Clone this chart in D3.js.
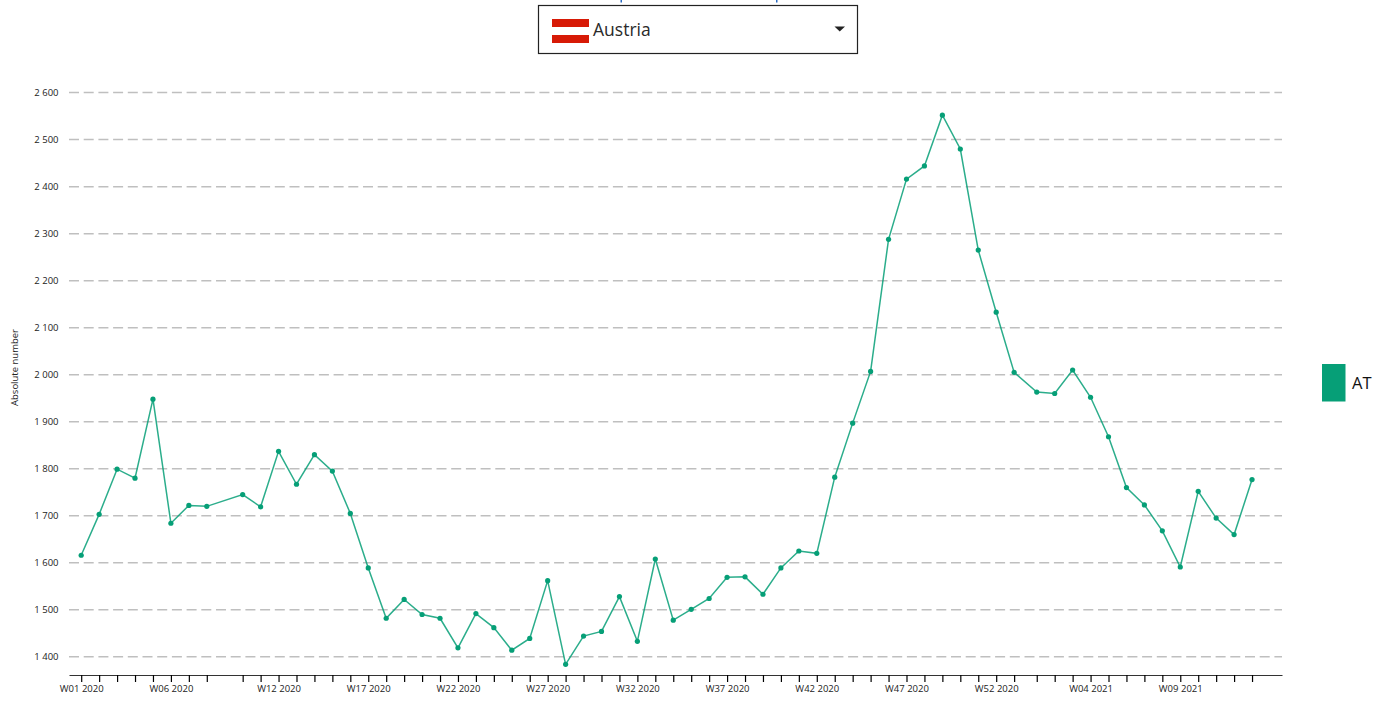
<!DOCTYPE html>
<html>
<head>
<meta charset="utf-8">
<script src="https://cdn.jsdelivr.net/npm/d3@7"></script>
<style>
html,body{margin:0;padding:0;background:#fff;overflow:hidden}
svg{display:block}
text{font-family:"Open Sans","Noto Sans",sans-serif}
</style>
</head>
<body>
<svg id="chart" width="1389" height="701"></svg>
<script>
const weeks2020 = ["W01","W02","W03","W04","W05","W06","W07","W08","W10","W11","W12","W13","W14","W15","W16","W17","W18","W19","W20","W21","W22","W23","W24","W25","W26","W27","W28","W29","W30","W31","W32","W33","W34","W35","W36","W37","W38","W39","W40","W41","W42","W43","W44","W45","W46","W47","W48","W49","W50","W51","W52","W53"];
const values2020 = [1616,1703,1799,1780,1948,1684,1722,1720,1745,1719,1837,1767,1830,1795,1705,1589,1482,1522,1490,1482,1419,1492,1462,1414,1439,1562,1384,1444,1454,1528,1433,1608,1478,1501,1524,1569,1570,1533,1589,1625,1620,1782,1897,2007,2288,2416,2444,2552,2480,2265,2133,2005];
const weeks2021 = ["W01","W02","W03","W04","W05","W06","W07","W08","W09","W10","W11","W12","W13"];
const values2021 = [1963,1960,2010,1952,1868,1760,1723,1668,1591,1752,1695,1660,1777];
const labelledTicks = ["W01 2020","W06 2020","W12 2020","W17 2020","W22 2020","W27 2020","W32 2020","W37 2020","W42 2020","W47 2020","W52 2020","W04 2021","W09 2021"];
const yTicks = [1400,1500,1600,1700,1800,1900,2000,2100,2200,2300,2400,2500,2600];
const seriesName = "AT";
const countryName = "Austria";
const yTitle = "Absolute number";
const seriesColor = "#069f77";

const yearOffset = {2020:-1, 2021:52.26};
const pos = (w,y) => +w.slice(1) + yearOffset[y];
const points = [
  ...weeks2020.map((w,i)=>({week:w,year:2020,label:w+" 2020",value:values2020[i]})),
  ...weeks2021.map((w,i)=>({week:w,year:2021,label:w+" 2021",value:values2021[i]}))
];
points.forEach(p=>p.t=pos(p.week,p.year));

const svg = d3.select("#chart");
const x = d3.scaleLinear().domain([-0.68,66.93]).range([69,1282]);
const y = d3.scaleLinear().domain([1400,2600]).range([656.8,92.6]);
const axisY = 675;

// small blue remnants at the very top edge of the page
svg.append("rect").attr("x",620.5).attr("y",0).attr("width",1.5).attr("height",2.5).attr("fill","#2a6bc2");
svg.append("rect").attr("x",776).attr("y",0).attr("width",1.5).attr("height",2.5).attr("fill","#2a6bc2");

// grid
svg.append("g").selectAll("line").data(yTicks).join("line")
  .attr("x1",x.range()[0]).attr("x2",x.range()[1])
  .attr("y1",d=>y(d)).attr("y2",d=>y(d))
  .attr("stroke","#bfbfbf").attr("stroke-width",1.5).attr("stroke-dasharray","10 4.7");

// y labels
const fmt = d => d3.format(",")(d).replace(",", " ");
const yAxis = d3.axisLeft(y).tickValues(yTicks).tickFormat(fmt).tickSize(0).tickPadding(0);
svg.append("g").attr("transform","translate(58.5,0)").call(yAxis)
  .call(g=>g.select(".domain").remove())
  .call(g=>g.selectAll("text").attr("fill","#222").style("font-size","9.5px").style("font-family",'"Open Sans"'));

// x axis
const labelSet = new Set(labelledTicks);
const byT = new Map(points.map(p=>[p.t,p.label]));
const xAxis = d3.axisBottom(x).tickValues(points.map(p=>p.t))
  .tickFormat(t=>labelSet.has(byT.get(t))?byT.get(t):"").tickSizeOuter(0).tickSizeInner(7).tickPadding(3);
svg.append("g").attr("transform",`translate(0,${axisY})`).call(xAxis)
  .call(g=>g.select(".domain").attr("stroke","#333").attr("stroke-width",1.2))
  .call(g=>g.selectAll(".tick line").attr("stroke","#000").attr("stroke-width",1.2))
  .call(g=>g.selectAll("text").attr("fill","#222").style("font-size","9.5px").style("font-family",'"Open Sans"'));

// y title
svg.append("text").attr("transform","translate(18,367.5) rotate(-90)").attr("text-anchor","middle")
  .attr("fill","#222").style("font-size","9.5px").text(yTitle);

// line + points
svg.append("path").datum(points).attr("fill","none").attr("stroke",seriesColor).attr("stroke-opacity",.85).attr("stroke-width",1.5)
  .attr("d",d3.line().x(d=>x(d.t)).y(d=>y(d.value)));
svg.append("g").selectAll("circle").data(points).join("circle")
  .attr("cx",d=>x(d.t)).attr("cy",d=>y(d.value)).attr("r",2.6).attr("fill",seriesColor);

// legend
svg.append("rect").attr("x",1322).attr("y",364).attr("width",23.5).attr("height",37.5).attr("fill",seriesColor);
svg.append("text").attr("x",1352).attr("y",388.5).attr("fill","#111").style("font-size","16.5px").text(seriesName);

// dropdown
svg.append("rect").attr("x",538.5).attr("y",5.5).attr("width",319).attr("height",48).attr("fill","#fff").attr("stroke","#222").attr("stroke-width",1.2);
svg.append("rect").attr("x",552).attr("y",19).attr("width",37).attr("height",24).attr("fill","#fff");
svg.append("rect").attr("x",552).attr("y",19).attr("width",37).attr("height",8).attr("fill","#d71a06");
svg.append("rect").attr("x",552).attr("y",35).attr("width",37).attr("height",8).attr("fill","#d71a06");
svg.append("text").attr("x",593).attr("y",35.5).attr("fill","#2a2a2a").style("font-size","17.5px").text(countryName);
svg.append("path").attr("d",d3.line()([[834.5,26.5],[845,26.5],[839.75,31.5]])+"Z").attr("fill","#222");
</script>
</body>
</html>
